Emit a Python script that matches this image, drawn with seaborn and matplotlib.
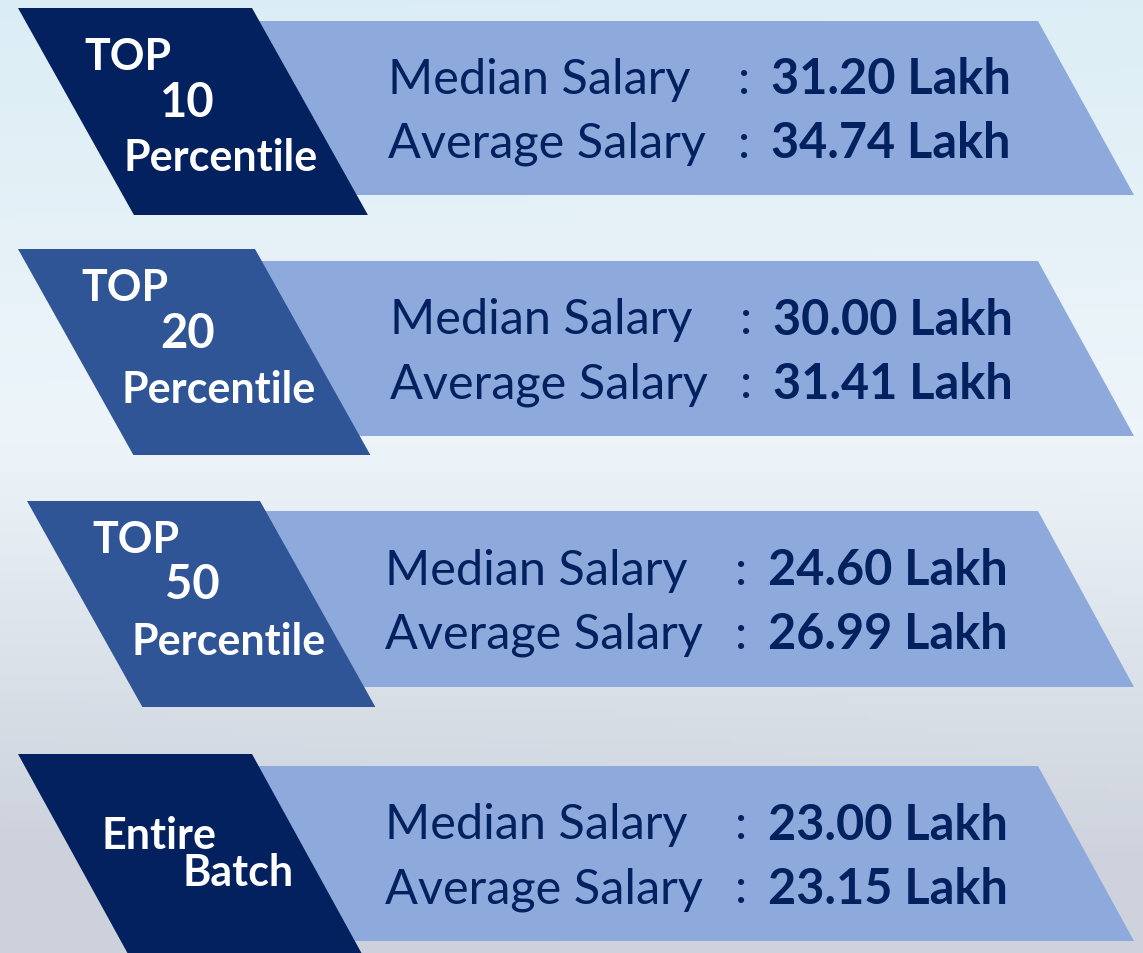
import numpy as np
import matplotlib.pyplot as plt
import seaborn as sns
from matplotlib.patches import Polygon

groups = ["TOP\n10\nPercentile", "TOP\n20\nPercentile", "TOP\n50\nPercentile", "Entire\nBatch"]
median_salary = [31.20, 30.00, 24.60, 23.00]
average_salary = [34.74, 31.41, 26.99, 23.15]
tag_colors = ["#03205F", "#2F5597", "#2F5597", "#03205F"]

sns.set_theme(style="white")
plt.rcParams['font.family'] = ['Lato', 'DejaVu Sans']

W, H = 1143, 954
fig = plt.figure(figsize=(W / 100, H / 100), dpi=100)
ax = fig.add_axes([0, 0, 1, 1])
ax.set_xlim(0, W)
ax.set_ylim(H, 0)
ax.axis('off')

# soft background: pale blue at top fading to grey at the bottom
yy = np.linspace(0, 1, 200)[:, None]
xx = np.linspace(0, 1, 200)[None, :]
top = np.array([0.86, 0.93, 0.96])
mid = np.array([0.93, 0.96, 0.98])
bot = np.array([0.80, 0.82, 0.86])
t = np.clip((yy - 0.45) / 0.45, 0, 1)
s = np.clip(yy / 0.45, 0, 1)
bg = np.where(yy[..., None] < 0.45,
              top * (1 - s[..., None]) + mid * s[..., None],
              mid * (1 - t[..., None]) + bot * t[..., None])
bg = bg * (1 - 0.04 * xx[..., None]) + 0.04 * xx[..., None]
bg = np.broadcast_to(bg, (200, 200, 3))
ax.imshow(bg, extent=[0, W, H, 0], aspect='auto', zorder=0)

# layout per row: band top/bottom, tag top/bottom, tag left x, width, slant
band_top = [22, 262, 512, 767]
band_bot = [196, 437, 688, 942]
tag_top = [9, 250, 502, 755]
tag_bot = [216, 456, 708, 970]
tag_x = [18, 18, 27, 18]
tag_w = [234, 237, 233, 234]
tag_slope = [0.56, 0.56, 0.56, 0.55]
text_x = [388, 390, 385, 385]
label_pos = [
    [(128, 57), (187, 103), (221, 158)],
    [(125, 288), (188, 334), (219, 390)],
    [(136, 540), (192, 585), (229, 642)],
    [(159, 836), (238, 873)],
]
navy = "#03205F"

for i, g in enumerate(groups):
    bt, bb = band_top[i], band_bot[i]
    tt, tb = tag_top[i], tag_bot[i]
    x0 = tag_x[i]
    # band starts behind the tag so its left edge stays hidden
    bx = x0 + (bb - tt) * tag_slope[i] + 20
    band = Polygon([(bx, bt), (1038, bt), (1134, bb), (bx, bb)],
                   closed=True, facecolor="#8EA9DB", edgecolor='none', zorder=1)
    ax.add_patch(band)

    dx = (tb - tt) * tag_slope[i]
    tag = Polygon([(x0, tt), (x0 + tag_w[i], tt), (x0 + tag_w[i] + dx, tb), (x0 + dx, tb)],
                  closed=True, facecolor=tag_colors[i], edgecolor='none', zorder=2)
    ax.add_patch(tag)

    for (lx, ly), word in zip(label_pos[i], g.split("\n")):
        size = 34 if word.isdigit() else 31
        ax.text(lx, ly, word, color='white', fontsize=size, fontweight='bold',
                ha='center', va='center', zorder=3)

    y1 = (bt + bb) / 2 - 29
    y2 = (bt + bb) / 2 + 35
    for yv, name, val in [(y1, "Median Salary", median_salary[i]),
                          (y2, "Average Salary", average_salary[i])]:
        ax.text(text_x[i], yv, name, color=navy, fontsize=35,
                ha='left', va='center', zorder=3)
        ax.text(text_x[i] + 350, yv, ":", color=navy, fontsize=35,
                ha='left', va='center', zorder=3)
        ax.text(text_x[i] + 383, yv, f"{val:.2f} Lakh", color=navy, fontsize=35,
                fontweight='bold', ha='left', va='center', zorder=3)

fig.savefig("out.png", dpi=100)
